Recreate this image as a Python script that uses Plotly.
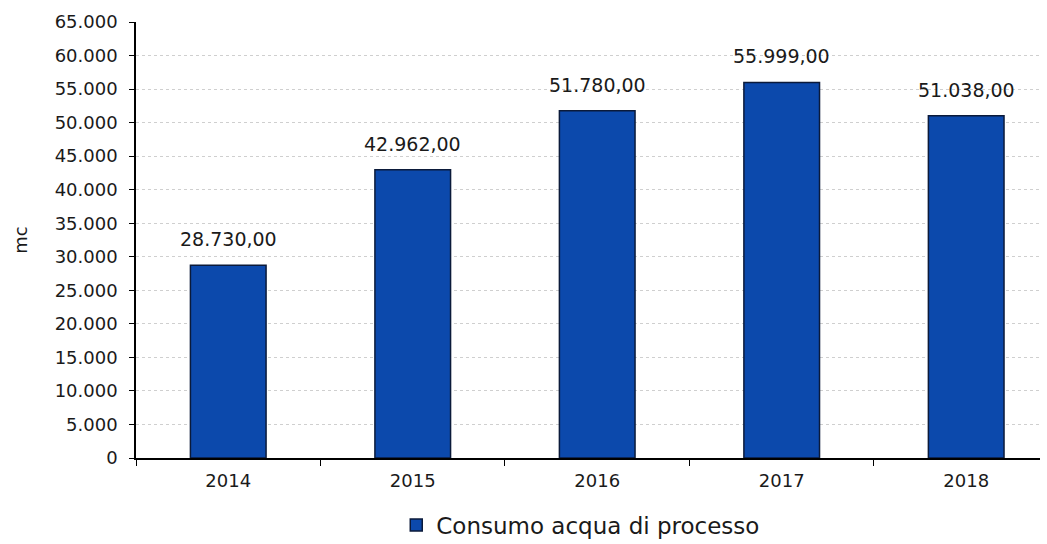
import plotly.graph_objects as go

# Annual process water consumption (cubic metres)
years = ["2014", "2015", "2016", "2017", "2018"]
consumo = [28730.00, 42962.00, 51780.00, 55999.00, 51038.00]
y_ticks = list(range(0, 65001, 5000))


def it_num(v, dec=0):
    s = f"{v:,.{dec}f}"
    return s.replace(",", "X").replace(".", ",").replace("X", ".")


labels = [it_num(v, 2) for v in consumo]
y_tick_text = [it_num(v) for v in y_ticks]

font_family = "DejaVu Sans, Verdana, sans-serif"

fig = go.Figure()
fig.add_trace(go.Bar(
    x=years,
    y=consumo,
    name="Consumo acqua di processo",
    marker=dict(color="#0C49AC", line=dict(color="#0B1A3A", width=1.5)),
    width=0.41,
))

# value labels above each bar (category index positions)
for i, (v, lab) in enumerate(zip(consumo, labels)):
    fig.add_annotation(
        x=i, y=v, xref="x", yref="y", text=lab, showarrow=False,
        yanchor="bottom", yshift=13,
        font=dict(size=19, color="#1a1a1a", family=font_family),
    )

fig.update_layout(
    width=1047,
    height=544,
    margin=dict(l=136, r=7, t=22, b=86, autoexpand=False),
    plot_bgcolor="white",
    paper_bgcolor="white",
    font=dict(family=font_family, size=18, color="#1a1a1a"),
    showlegend=True,
    legend=dict(
        orientation="h",
        x=0.492, xanchor="center", xref="paper",
        y=1 - 525 / 544, yanchor="middle", yref="container",
        font=dict(size=23, family=font_family),
        itemwidth=30,
    ),
)

fig.update_xaxes(
    type="category",
    range=[-0.5, 4.4],
    showline=True, linecolor="black", linewidth=1.5,
    ticks="outside", tickson="boundaries", ticklen=6, tickcolor="black",
    ticklabelstandoff=6,
    tickfont=dict(size=18),
    showgrid=False,
)
fig.update_yaxes(
    range=[0, 65000],
    tickvals=y_ticks,
    ticktext=y_tick_text,
    showline=True, linecolor="black", linewidth=1.5,
    ticks="outside", ticklen=5, tickcolor="black",
    ticklabelstandoff=8,
    tickfont=dict(size=18),
    showgrid=True, gridcolor="#cfcfcf", griddash="dot", gridwidth=1,
    zeroline=False,
    title=dict(text="mc", font=dict(size=18), standoff=22),
)

fig.write_html("out.html")
